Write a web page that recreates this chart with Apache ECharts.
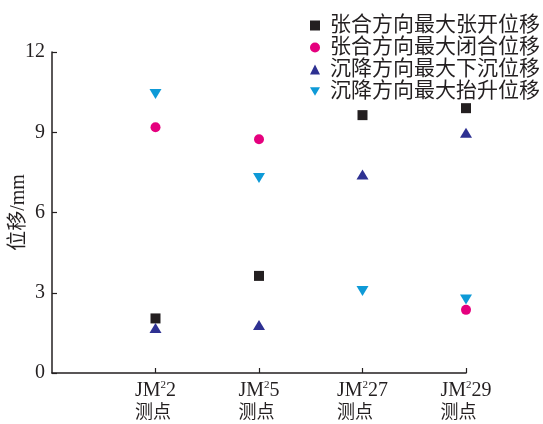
<!DOCTYPE html>
<html>
<head>
<meta charset="utf-8">
<script src="https://cdn.jsdelivr.net/npm/echarts@6/dist/echarts.min.js"></script>
<style>html,body{margin:0;padding:0;background:#fff;}#c{width:543px;height:424px;}</style>
</head>
<body>
<div id="c"></div>
<script>
var categories = ['JM²2', 'JM²5', 'JM²27', 'JM²29'];
var catPrefix = ['JM', 'JM', 'JM', 'JM'];
var catSup = ['2', '2', '2', '2'];
var catNum = ['2', '5', '27', '29'];
var catSuffix = '测点';
var seriesNames = ['张合方向最大张开位移', '张合方向最大闭合位移', '沉降方向最大下沉位移', '沉降方向最大抬升位移'];
var openDisp = [2.04, 3.63, 9.64, 9.9];
var closeDisp = [9.19, 8.74, null, 2.36];
var sinkDisp = [1.68, 1.79, 7.42, 8.98];
var liftDisp = [10.43, 7.29, 3.07, 2.75];
var yTicks = [0, 3, 6, 9, 12];

var serif = '"Liberation Serif", "Times New Roman", "Noto Sans CJK SC", serif';
var ink = '#231f20';

function pts(arr) {
  var out = [];
  arr.forEach(function (v, i) { if (v !== null) out.push([i + 1, v]); });
  return out;
}

var chart = echarts.init(document.getElementById('c'), null, {renderer: 'canvas'});
chart.setOption({
  animation: false,
  backgroundColor: '#fff',
  grid: {left: 52, right: 77, top: 52, bottom: 51, containLabel: false, outerBoundsMode: 'none'},
  legend: {
    orient: 'vertical', right: -2, top: 10, itemGap: 1,
    itemWidth: 10, itemHeight: 10,
    textStyle: {fontFamily: serif, fontSize: 21, color: ink, padding: [0, 0, 0, 5], lineHeight: 21},
    data: seriesNames
  },
  xAxis: {
    type: 'value', min: 0, max: 4, interval: 1,
    axisLine: {lineStyle: {color: ink, width: 1.5}},
    axisTick: {inside: true, length: 5, lineStyle: {color: ink, width: 1.2}},
    splitLine: {show: false},
    axisLabel: {
      margin: 7, showMinLabel: false, showMaxLabel: true,
      formatter: function (v) {
        if (v < 1 || v > categories.length) return '';
        var i = v - 1;
        return '{a|' + catPrefix[i] + '}{s|' + catSup[i] + '}{a|' + catNum[i] + '}\n{c|' + catSuffix + '}';
      },
      rich: {
        a: {fontFamily: serif, fontSize: 20, color: ink, align: 'left', lineHeight: 22},
        s: {fontFamily: serif, fontSize: 11, color: ink, align: 'left', verticalAlign: 'top', lineHeight: 22, padding: [0, 0, 8, 0]},
        c: {fontFamily: serif, fontSize: 18, color: ink, align: 'left', lineHeight: 22}
      }
    }
  },
  yAxis: {
    type: 'value', min: yTicks[0], max: yTicks[yTicks.length - 1], interval: 3,
    name: '位移/mm', nameLocation: 'middle', nameGap: 23, nameMoveOverlap: false,
    nameTextStyle: {fontFamily: serif, fontSize: 20, color: ink},
    axisLine: {show: true, lineStyle: {color: ink, width: 1.5}},
    axisTick: {show: true, inside: true, length: 5, lineStyle: {color: ink, width: 1.2}},
    splitLine: {show: false},
    axisLabel: {margin: 7, fontFamily: serif, fontSize: 20, color: ink}
  },
  series: [
    {name: seriesNames[0], type: 'scatter', symbol: 'rect', symbolSize: 10,
     itemStyle: {color: '#231f20', opacity: 1}, data: pts(openDisp)},
    {name: seriesNames[1], type: 'scatter', symbol: 'circle', symbolSize: 10,
     itemStyle: {color: '#e5007e', opacity: 1}, data: pts(closeDisp)},
    {name: seriesNames[2], type: 'scatter', symbol: 'triangle', symbolSize: [12, 10],
     itemStyle: {color: '#2e3192', opacity: 1}, data: pts(sinkDisp)},
    {name: seriesNames[3], type: 'scatter', symbol: 'path://M0,0 L12,0 L6,10 Z', symbolSize: [12, 10],
     itemStyle: {color: '#0e9ad7', opacity: 1}, data: pts(liftDisp)}
  ]
});
</script>
</body>
</html>
